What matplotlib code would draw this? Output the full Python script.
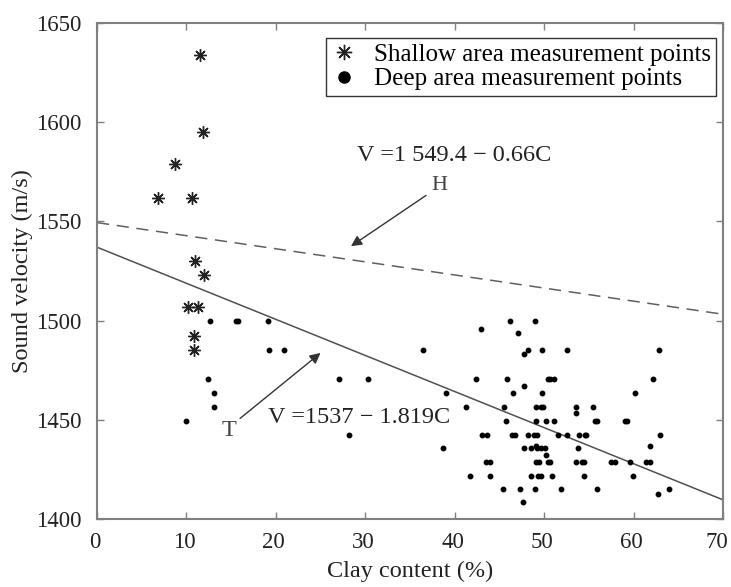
import numpy as np
import matplotlib
matplotlib.use("Agg")
import matplotlib.pyplot as plt
import matplotlib.transforms as mtrans

plt.rcParams['font.family'] = ['Liberation Serif', 'DejaVu Serif']

# shallow area points (clay %, velocity m/s)
shallow_x = [11.5, 11.9, 8.7, 6.8, 10.6, 11.0, 12.0, 10.2, 11.3, 10.9, 10.9]
shallow_v = [1634, 1595, 1579, 1562, 1562, 1530, 1523, 1507, 1507, 1492, 1485]

# deep area points
deep_x = [12.6, 15.5, 15.8, 19.1, 19.2, 20.9, 12.4, 13.1, 13.1, 10.0,
          27.1, 30.3, 28.2,
          42.9, 46.2, 49.0, 47.1, 36.5, 47.8, 48.2,
          42.4, 45.9, 47.8, 46.5, 39.0, 41.3, 45.5, 49.1, 45.7, 49.1,
          43.1, 43.6, 46.4, 46.7, 48.2, 48.9, 49.2,
          38.7, 47.8, 48.5, 49.1, 49.2,
          43.5, 43.9, 49.1, 49.4, 41.7, 44.0, 48.5, 49.3,
          45.4, 47.3, 49.0, 47.6,
          49.8, 52.5, 62.8, 50.4, 50.7, 51.1, 62.2, 49.8, 60.2,
          49.7, 49.9, 53.6, 53.6, 55.5,
          50.2, 51.1, 55.7, 55.9, 59.0, 59.3,
          51.5, 52.6, 53.9, 54.6, 54.7, 63.0,
          49.6, 50.1, 50.2, 53.8, 61.8,
          50.4, 50.7, 53.6, 54.2, 54.5, 57.5, 57.9, 59.6, 61.4, 61.8,
          49.7, 50.9, 54.5, 59.9, 51.9, 55.9, 64.0, 62.7]
deep_v = [1500, 1500, 1500, 1500, 1485, 1485, 1470.5, 1463.3, 1456.2, 1449.3,
          1470.5, 1470.5, 1442.3,
          1496, 1500, 1500, 1494, 1485, 1483.4, 1485,
          1470.5, 1470.5, 1467, 1463.3, 1463.3, 1456.2, 1456.2, 1456.2, 1449.3, 1449.3,
          1442.3, 1442.3, 1442.3, 1442.3, 1442.3, 1442.3, 1442.3,
          1435.6, 1435.6, 1435.6, 1437, 1435.6,
          1428.5, 1428.5, 1428.5, 1428.5, 1421.8, 1421.8, 1421.8, 1421.8,
          1415.1, 1415.1, 1415.1, 1408.7,
          1485, 1485, 1485, 1470.5, 1470.5, 1470.5, 1470.5, 1463.3, 1463.3,
          1456.2, 1456.2, 1456.2, 1453.5, 1456.2,
          1449.3, 1449.3, 1449.3, 1449.3, 1449.3, 1449.3,
          1442.3, 1442.3, 1442.3, 1442.3, 1442.3, 1442.3,
          1435.6, 1435.6, 1432.2, 1435.6, 1437,
          1428.5, 1428.5, 1428.5, 1428.5, 1428.5, 1428.5, 1428.5, 1428.5, 1428.5, 1428.5,
          1421.8, 1421.8, 1421.8, 1421.8, 1415.1, 1415.1, 1415.1, 1412.4]

# fitted lines V = a + b*C
fit_T = (1537.0, -1.819)
fit_H = (1549.4, -0.66)

fig = plt.figure(figsize=(7.31, 5.87), dpi=100)
ax = fig.add_axes([97/731, 1 - 519/587, 626/731, 496/587])

c = np.array([0, 70])
ax.plot(c, fit_T[0] + fit_T[1]*c, color='#505050', lw=1.1)
ax.plot(c, fit_H[0] + fit_H[1]*c, color='#606060', lw=1.1, dashes=(8, 5))

ax.plot(shallow_x, shallow_v, ls='none', marker=(8, 2, 0), ms=9, mew=1.0,
        color='#222222', label='Shallow area measurement points')
ax.plot(deep_x, deep_v, ls='none', marker='o', ms=3.2, color='black',
        label='Deep area measurement points')

ax.set_xlim(0, 70)
ax.set_ylim(1400, 1650)
ax.set_xticks(np.arange(0, 71, 10))
ax.set_yticks(np.arange(1400, 1651, 50))
ax.tick_params(direction='in', top=True, right=True, length=5, width=1,
               color='#808080', labelsize=16.5, labelcolor='#222222')
ax.tick_params(axis='x', pad=9)
ax.tick_params(axis='y', pad=11)
for s in ax.spines.values():
    s.set_color('#808080')
    s.set_linewidth(1.5)

# nudge x tick labels slightly left, the last one a bit more
for i, lab in enumerate(ax.get_xticklabels()):
    dx = -6 if i == len(ax.get_xticklabels()) - 1 else -2
    lab.set_transform(lab.get_transform() +
                      mtrans.ScaledTranslation(dx/100, 0, fig.dpi_scale_trans))

ax.set_xlabel('Clay content (%)', fontsize=17.5, color='#222222', labelpad=6)
ax.set_ylabel('Sound velocity (m/s)', fontsize=17.5, color='#222222', labelpad=2)

leg = ax.legend(loc='upper right', bbox_to_anchor=(0.989, 0.97), borderaxespad=0,
                fancybox=False, edgecolor='#333333', framealpha=1, fontsize=18,
                handlelength=1.0, handletextpad=0.7, labelspacing=0.08, borderpad=0.22)
leg.get_frame().set_linewidth(1.0)
hs = leg.legend_handles
hs[0].set_markersize(11)
hs[1].set_markersize(8)

ax.text(29.1, 1583, 'V =1 549.4 \u2212 0.66C', fontsize=17.5, color='#222222',
        ha='left', va='center')
ax.text(38.3, 1568, 'H', fontsize=16, color='#444444', ha='center', va='center')
ax.annotate('', xy=(28.4, 1537.5), xytext=(36.8, 1563.1),
            arrowprops=dict(arrowstyle='-|>', color='#333333', lw=1.0,
                            mutation_scale=16, shrinkA=0, shrinkB=0))

ax.text(19.1, 1451.2, 'V =1537 \u2212 1.819C', fontsize=17.5, color='#222222',
        ha='left', va='center')
ax.text(14.8, 1444.5, 'T', fontsize=17.5, color='#444444', ha='center', va='center')
ax.annotate('', xy=(25.0, 1483.7), xytext=(16.0, 1450.7),
            arrowprops=dict(arrowstyle='-|>', color='#333333', lw=1.0,
                            mutation_scale=16, shrinkA=0, shrinkB=0))

fig.savefig('out.png', dpi=100)
